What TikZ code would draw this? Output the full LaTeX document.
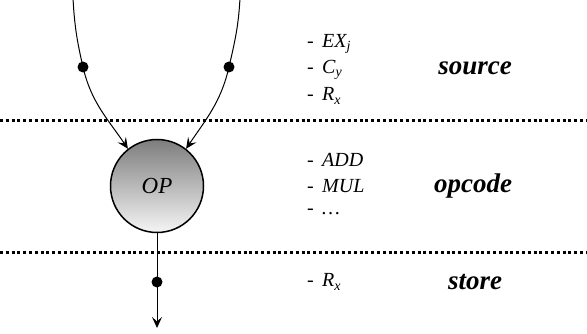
\documentclass[tikz,border=0pt]{standalone}
\usepackage{fontspec}
\setmainfont{Liberation Serif}
\usetikzlibrary{arrows.meta}
\tikzset{
  conn/.style={line width=1pt, -{Stealth[length=11pt,width=10pt,inset=4.5pt]}},
  seg/.style={line width=1pt},
  dotnode/.style={circle, fill=black, inner sep=0pt, minimum size=11pt},
  opnode/.style={circle, draw=black, line width=1.5pt, minimum size=93pt, inner sep=0pt,
    top color={rgb,255:red,125;green,125;blue,125}, bottom color={rgb,255:red,245;green,245;blue,245}},
  sep/.style={line width=3pt, dash pattern=on 3pt off 2.8pt},
  item/.style={anchor=west, inner sep=0pt, font=\fontsize{20}{22}\selectfont\itshape},
  lbl/.style={inner sep=0pt, font=\fontsize{27}{29}\selectfont\bfseries\itshape}
}
\begin{document}
\begin{tikzpicture}[x=1pt,y=1pt]
\useasboundingbox (0,0) rectangle (587,334);
% separators
\coordinate (s1a) at (0,213); \coordinate (s1b) at (587,213);
\coordinate (s2a) at (0,81); \coordinate (s2b) at (587,81);
\draw[sep] (s1a) -- (s1b);
\draw[sep] (s2a) -- (s2b);
% OP
\node[opnode, font=\fontsize{23}{25}\selectfont\itshape] (OP) at (157,148) {OP};
% left input
\coordinate (ltop) at (73,336);
\node[dotnode] (ldot) at (83,267) {};
\draw[seg] (ltop) to[out=-87,in=103] (ldot.center);
\draw[conn] (ldot.center) to[out=-77,in=124] (OP.128);
% right input
\coordinate (rtop) at (240,336);
\node[dotnode] (rdot) at (229,267) {};
\draw[seg] (rtop) to[out=-93,in=77] (rdot.center);
\draw[conn] (rdot.center) to[out=-103,in=56] (OP.52);
% output
\node[dotnode] (odot) at (157,52) {};
\coordinate (oend) at (157,6);
\draw[conn] (OP.south) -- (oend);
% texts
\node[item] (t1) at (307,290) {-\, EX\textsubscript{j}};
\node[item] (t2) at (307,264) {-\, C\textsubscript{y}};
\node[item] (t3) at (307,238) {-\, R\textsubscript{x}};
\node[lbl] (source) at (475,266) {source};
\node[item] (t4) at (307,174) {-\, ADD};
\node[item] (t5) at (307,148) {-\, MUL};
\node[item] (t6) at (307,122) {-\, \dots};
\node[lbl] (opcode) at (473,148) {opcode};
\node[item] (t7) at (307,52) {-\, R\textsubscript{x}};
\node[lbl] (store) at (475,52) {store};
\end{tikzpicture}
\end{document}
